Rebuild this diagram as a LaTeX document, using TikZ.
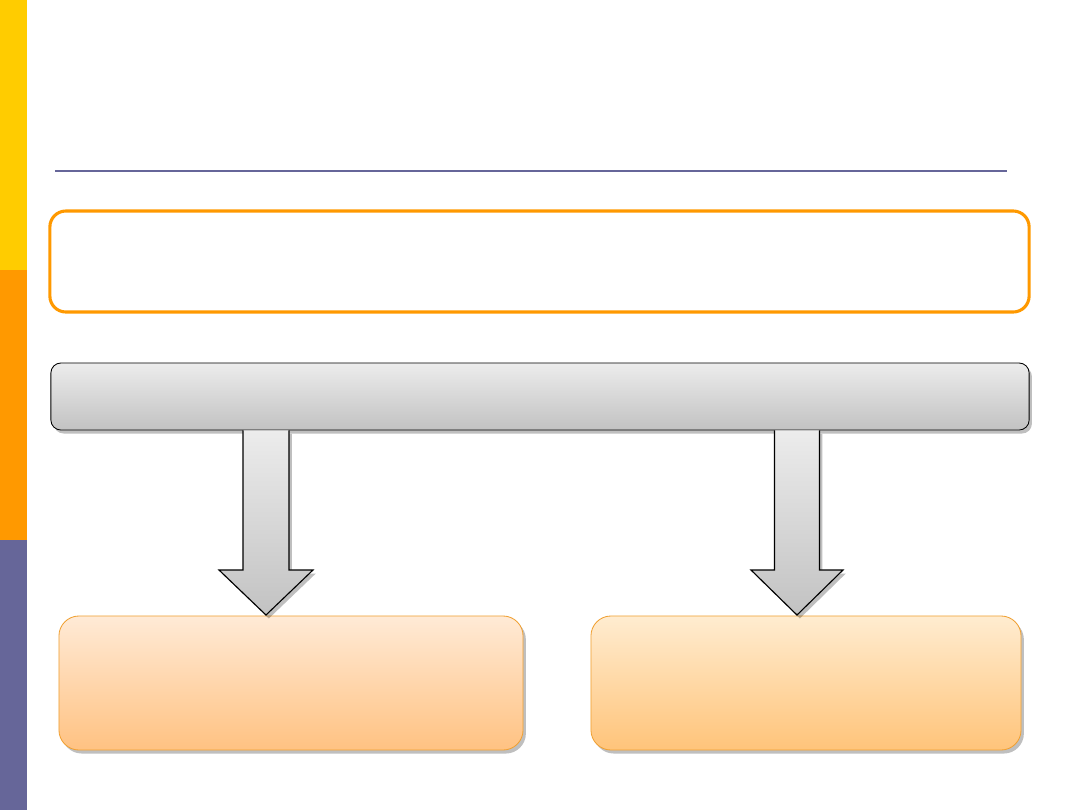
\documentclass[tikz,border=0pt]{standalone}
\usepackage{tikz}
\usetikzlibrary{positioning, calc, shadows}
\definecolor{cSideA}{RGB}{255, 204, 0}
\definecolor{cSideB}{RGB}{255, 153, 0}
\definecolor{cSideC}{RGB}{102, 102, 153}
\definecolor{bOrange}{RGB}{255, 153, 0}
\definecolor{bSoft}{RGB}{240, 160, 50}
\definecolor{cGrayTop}{RGB}{236, 236, 236}
\definecolor{cGrayBot}{RGB}{194, 194, 194}
\definecolor{cPeachTop}{RGB}{255, 234, 214}
\definecolor{cPeachBot}{RGB}{255, 194, 130}
\definecolor{cSandTop}{RGB}{255, 236, 208}
\definecolor{cSandBot}{RGB}{255, 196, 122}

\begin{document}
\begin{tikzpicture}[
    x=0.025cm, y=-0.025cm,
    softshadow/.style={drop shadow={shadow xshift=2pt, shadow yshift=-2.5pt, opacity=0.25, fill=black}},
    block/.style={
        rectangle,
        line width=0.6pt,
        inner sep=0pt
    },
    blockarrow/.style={draw=black, line width=0.8pt, line join=miter,
        top color=cGrayTop, bottom color=cGrayBot, softshadow}
]
\useasboundingbox (0,0) rectangle (1080,810);

% side bar
\fill[cSideA] (0,0) rectangle (27,270);
\fill[cSideB] (0,270) rectangle (27,540);
\fill[cSideC] (0,540) rectangle (27,810);

% title rule
\coordinate (ruleL) at (55,171);
\coordinate (ruleR) at (1007,171);
\draw[cSideC, line width=1.4pt] (ruleL) -- (ruleR);

% boxes
\node[block, draw=bOrange, line width=2.2pt, fill=white, rounded corners=0.4cm,
      minimum width=24.475cm, minimum height=2.525cm] (intro) at (539.5,261.5) {};

\node[block, draw=black, rounded corners=0.25cm, top color=cGrayTop, bottom color=cGrayBot,
      softshadow, minimum width=24.45cm, minimum height=1.675cm] (bar) at (540,396.5) {};

\node[block, draw=bSoft, rounded corners=0.5cm, top color=cPeachTop, bottom color=cPeachBot,
      softshadow, minimum width=11.6cm, minimum height=3.35cm] (left) at (291,683) {};

\node[block, draw=bSoft, rounded corners=0.5cm, top color=cSandTop, bottom color=cSandBot,
      softshadow, minimum width=10.75cm, minimum height=3.35cm] (right) at (806,683) {};

% block arrows
\coordinate (ltip) at (266,615);
\coordinate (rtip) at (797,615);

\draw[blockarrow] ($(bar.south -| ltip)+(-23,0)$) -- ($(ltip)+(-23,-45)$) -- ++(-24,0)
    -- (ltip) -- ++(47,-45) -- ++(-24,0) -- ($(bar.south -| ltip)+(23,0)$);
\draw[blockarrow] ($(bar.south -| rtip)+(-22.5,0)$) -- ($(rtip)+(-22.5,-45)$) -- ++(-23.5,0)
    -- (rtip) -- ++(46,-45) -- ++(-23.5,0) -- ($(bar.south -| rtip)+(22.5,0)$);

\end{tikzpicture}
\end{document}
